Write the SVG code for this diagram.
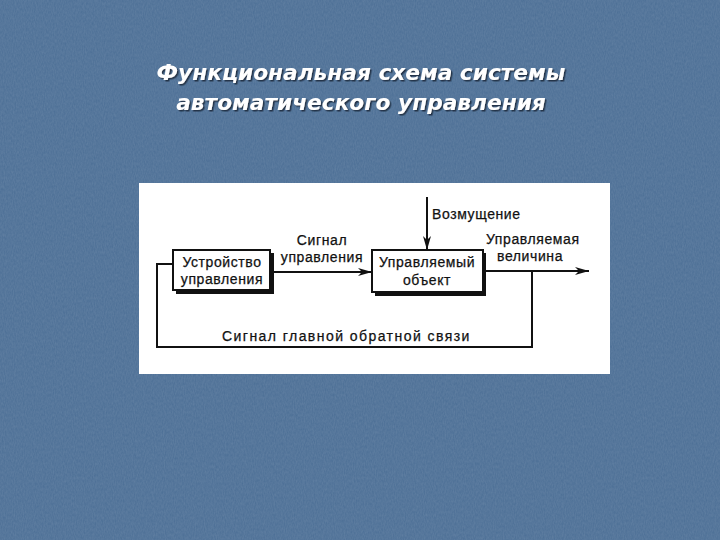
<svg xmlns="http://www.w3.org/2000/svg" width="720" height="540" viewBox="0 0 720 540">
  <defs>
    <filter id="tex" x="0" y="0" width="100%" height="100%">
      <feTurbulence type="fractalNoise" baseFrequency="0.9 0.35" numOctaves="2" seed="3" result="n"/>
      <feColorMatrix type="matrix" values="0 0 0 0 1  0 0 0 0 1  0 0 0 0 1  0 0 0 0.12 0" in="n"/>
    </filter>
    <filter id="tshadow" x="-5%" y="-20%" width="110%" height="140%">
      <feDropShadow dx="1.5" dy="1.5" stdDeviation="0.6" flood-color="#1e2e40" flood-opacity="0.9"/>
    </filter>
    <marker id="arr" viewBox="0 0 14 8" refX="14" refY="4" markerWidth="14" markerHeight="8" markerUnits="userSpaceOnUse" orient="auto">
      <path d="M0,0 L14,4 L0,8 L4,4 Z" fill="#111"/>
    </marker>
    <style>
      .title { font-family: "DejaVu Sans", "Liberation Sans", sans-serif; font-weight: bold; font-style: italic; font-size: 21.7px; fill: #ffffff; }
      .lbl { font-family: "Liberation Sans", Arial, sans-serif; font-size: 14px; fill: #111; stroke: #111; stroke-width: 0.25; letter-spacing: 0.6px; }
      .box { fill: #ffffff; stroke: #111; stroke-width: 2; }
      .shadow { fill: #111; }
      .ln { fill: none; stroke: #111; stroke-width: 2; }
    </style>
  </defs>

  <rect x="0" y="0" width="720" height="540" fill="#4b6e95"/>
  <rect x="0" y="0" width="720" height="540" filter="url(#tex)"/>

  <g id="title" filter="url(#tshadow)">
    <text class="title" x="361" y="80" text-anchor="middle">Функциональная схема системы</text>
    <text class="title" x="361" y="110" text-anchor="middle">автоматического управления</text>
  </g>

  <rect x="139" y="183" width="471" height="191" fill="#ffffff"/>

  <g id="connectors">
    <line class="ln" x1="270" y1="272" x2="372" y2="272" marker-end="url(#arr)"/>
    <line class="ln" x1="427" y1="197" x2="427" y2="250" marker-end="url(#arr)"/>
    <line class="ln" x1="483" y1="271" x2="589" y2="271" marker-end="url(#arr)"/>
    <polyline class="ln" points="532,271 532,347 157,347 157,264 173,264"/>
  </g>

  <g id="node-controller">
    <rect class="shadow" x="176" y="253" width="98" height="41"/>
    <rect class="box" x="173" y="250" width="97" height="40"/>
    <text class="lbl" x="222" y="267" text-anchor="middle">Устройство</text>
    <text class="lbl" x="222" y="284" text-anchor="middle">управления</text>
  </g>

  <g id="node-object">
    <rect class="shadow" x="375" y="253" width="111" height="43"/>
    <rect class="box" x="372" y="250" width="111" height="42"/>
    <text class="lbl" x="427" y="267" text-anchor="middle">Управляемый</text>
    <text class="lbl" x="427" y="285" text-anchor="middle">объект</text>
  </g>

  <g id="labels">
    <text class="lbl" x="322" y="245" text-anchor="middle">Сигнал</text>
    <text class="lbl" x="322" y="262" text-anchor="middle">управления</text>
    <text class="lbl" x="432" y="219">Возмущение</text>
    <text class="lbl" x="486" y="244">Управляемая</text>
    <text class="lbl" x="497" y="261">величина</text>
    <text class="lbl" x="222" y="341" textLength="248">Сигнал главной обратной связи</text>
  </g>
</svg>
